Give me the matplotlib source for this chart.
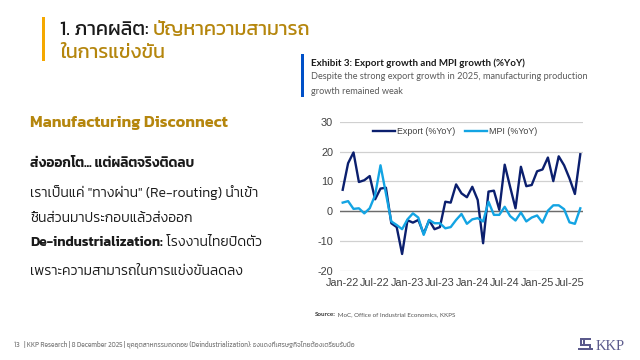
import matplotlib
matplotlib.use("Agg")
import matplotlib.pyplot as plt
from matplotlib.patches import Rectangle

# ---------------- data ----------------
months = ["Jan-22", "Feb-22", "Mar-22", "Apr-22", "May-22", "Jun-22", "Jul-22", "Aug-22", "Sep-22",
          "Oct-22", "Nov-22", "Dec-22", "Jan-23", "Feb-23", "Mar-23", "Apr-23", "May-23", "Jun-23",
          "Jul-23", "Aug-23", "Sep-23", "Oct-23", "Nov-23", "Dec-23", "Jan-24", "Feb-24", "Mar-24",
          "Apr-24", "May-24", "Jun-24", "Jul-24", "Aug-24", "Sep-24", "Oct-24", "Nov-24", "Dec-24",
          "Jan-25", "Feb-25", "Mar-25", "Apr-25", "May-25", "Jun-25", "Jul-25", "Aug-25", "Sep-25"]
export_yoy = [7.2, 16.1, 19.7, 9.8, 10.4, 11.8, 4.0, 7.6, 7.9, -4.0, -5.3, -14.3, -3.0, -3.8, -2.9,
              -7.5, -3.0, -6.0, -5.3, 3.2, 2.9, 9.0, 6.0, 4.7, 8.2, 3.8, -10.7, 6.6, 6.9, 0.5,
              15.6, 8.2, 1.0, 14.9, 8.4, 8.8, 13.4, 14.0, 18.0, 10.1, 18.4, 15.4, 11.0, 5.8, 19.1]
mpi_yoy = [2.9, 3.4, 0.8, 1.0, -0.7, 1.0, 5.4, 15.4, 6.0, -3.4, -4.6, -6.0, -2.7, -0.7, -2.1,
           -7.9, -2.9, -4.0, -4.0, -5.7, -5.3, -2.9, -0.9, -4.2, -2.7, -2.3, -3.4, 3.2, -1.2, -1.2,
           1.5, -1.6, -3.1, -0.4, -3.4, -2.1, -1.4, -3.8, 0.2, 2.0, 2.0, 0.7, -3.7, -4.2, 1.0]
tick_idx = [0, 6, 12, 18, 24, 30, 36, 42]
y_ticks = [-20, -10, 0, 10, 20, 30]

# ---------------- styling ----------------
W, H = 640, 360
fig = plt.figure(figsize=(6.4, 3.6), dpi=100)
fig.patch.set_facecolor("white")

def fx(x):
    return x / W

def fy(y):
    return 1 - y / H

THAI = ["Kanit", "DejaVu Sans"]
CAL = ["Lato", "Liberation Sans", "DejaVu Sans"]
ARIAL = ["Liberation Sans", "DejaVu Sans"]
GOLD = "#B5860D"
DARK = "#1a1a1a"

renderer = fig.canvas.get_renderer()

def chain(x, y, parts, size, va="baseline"):
    """draw consecutive text pieces: parts = list of (text, color, weight, family)"""
    cur = x
    for txt, col, wt, fam in parts:
        t = fig.text(fx(cur), fy(y), txt, color=col, fontsize=size, fontweight=wt,
                     family=fam, ha="left", va=va)
        bb = t.get_window_extent(renderer)
        cur = bb.x1 * W / fig.bbox.width
    return cur

# title bar + title
fig.add_artist(Rectangle((fx(42), fy(61)), fx(3), (61 - 17) / H, transform=fig.transFigure,
                         color="#F5A800", lw=0))
chain(60, 35, [("1. ภาคผลิต: ", DARK, 400, THAI), ("ปัญหาความสามารถ", GOLD, 400, THAI)], 14.2)
chain(60, 58, [("ในการแข่งขัน", GOLD, 400, THAI)], 14.2)

# left text block
fig.text(fx(30), fy(127), "Manufacturing Disconnect", color=GOLD, fontsize=11.7, fontweight=600,
         family=THAI, ha="left", va="baseline")
fig.text(fx(30), fy(167), "ส่งออกโต... แต่ผลิตจริงติดลบ", color=DARK, fontsize=9.8, fontweight=600,
         family=THAI, ha="left", va="baseline")
fig.text(fx(30), fy(197), "เราเป็นแค่ \"ทางผ่าน\" (Re-routing) นำเข้า", color=DARK, fontsize=10,
         fontweight=300, family=THAI, ha="left", va="baseline")
fig.text(fx(30), fy(222), "ชิ้นส่วนมาประกอบแล้วส่งออก", color=DARK, fontsize=10,
         fontweight=300, family=THAI, ha="left", va="baseline")
chain(30, 246, [("De-industrialization:", DARK, 600, THAI), (" โรงงานไทยปิดตัว", DARK, 300, THAI)], 10)
fig.text(fx(30), fy(275), "เพราะความสามารถในการแข่งขันลดลง", color=DARK, fontsize=10,
         fontweight=300, family=THAI, ha="left", va="baseline")

# exhibit header
fig.add_artist(Rectangle((fx(301), fy(97)), fx(2.5), (97 - 54) / H, transform=fig.transFigure,
                         color="#0050C8", lw=0))
fig.text(fx(311), fy(66), "Exhibit 3: Export growth and MPI growth (%YoY)", color="#1a1a1a",
         fontsize=7.0, fontweight="bold", family=CAL, ha="left", va="baseline")
fig.text(fx(311), fy(79), "Despite the strong export growth in 2025, manufacturing production",
         color="#595959", fontsize=6.6, family=CAL, ha="left", va="baseline")
fig.text(fx(311), fy(94), "growth remained weak",
         color="#595959", fontsize=6.6, family=CAL, ha="left", va="baseline")

# chart
ax = fig.add_axes([fx(340), fy(271), (583 - 340) / W, (271 - 121.7) / H])
xs = list(range(len(months)))
ax.plot(xs, export_yoy, color="#0B1F6E", lw=1.7, label="Export (%YoY)", zorder=3)
ax.plot(xs, mpi_yoy, color="#13A4E3", lw=1.7, label="MPI (%YoY)", zorder=4)
ax.set_xlim(-0.5, len(months) - 0.5)
ax.set_ylim(-20, 30)
ax.set_yticks(y_ticks)
ax.set_yticklabels([str(v) for v in y_ticks])
ax.set_xticks(tick_idx)
ax.set_xticklabels([months[i] for i in tick_idx])
for s in ax.spines.values():
    s.set_visible(False)
ax.tick_params(length=0, labelsize=7.8, colors="#404040", pad=5)
for lab in ax.get_xticklabels() + ax.get_yticklabels():
    lab.set_family(ARIAL)
ax.yaxis.grid(True, color="#D0D0D0", lw=0.9)
ax.set_axisbelow(True)
ax.axhline(0, color="#6b6b6b", lw=1.0, zorder=2)
leg = ax.legend(loc="center", bbox_to_anchor=(0.473, 0.935), ncol=2, frameon=False,
                prop={"family": ARIAL, "size": 6.4},
                handlelength=2.5, columnspacing=1.1, handletextpad=0.2)
for t in leg.get_texts():
    t.set_color("#404040")

# source
chain(315, 316, [("Source:", "#333333", "bold", CAL),
                 (" MoC, Office of Industrial Economics, KKPS", "#555555", "normal", CAL)], 4.5)

# footer
fig.text(fx(14), fy(346), "13   | KKP Research | 8 December 2025 | ยุคอุตสาหกรรมถดถอย (Deindustrialization): ธงแดงที่เศรษฐกิจไทยต้องเตรียมรับมือ",
         color="#7f7f7f", fontsize=4.8, family=THAI, ha="left", va="baseline")

# logo
LC = "#5B5A8C"
for (x0, y0, w, h) in [(580, 338, 11, 2), (580, 338, 2, 7), (580, 344, 11, 2),
                       (589, 344, 2, 5), (578, 348, 15, 2), (583, 340, 2, 5)]:
    fig.add_artist(Rectangle((fx(x0), fy(y0 + h)), w / W, h / H, transform=fig.transFigure,
                             color=LC, lw=0))
fig.text(fx(596), fy(350), "KKP", color=LC, fontsize=10.5,
         family=["Liberation Serif", "DejaVu Serif"], ha="left", va="baseline")

fig.savefig("out.png", dpi=100, facecolor="white")
